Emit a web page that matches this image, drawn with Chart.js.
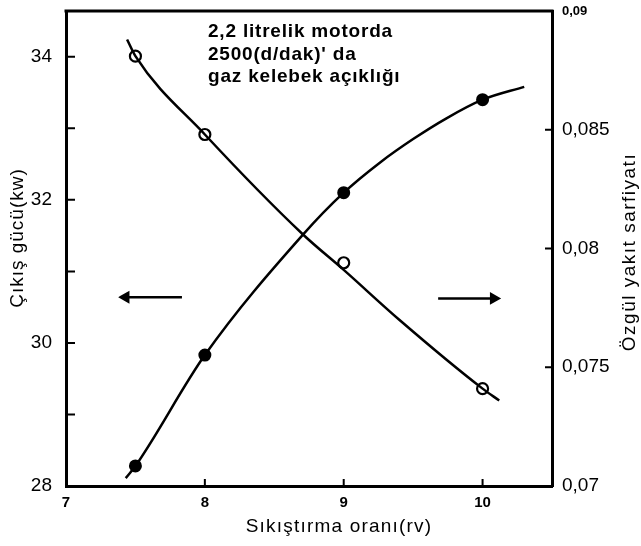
<!DOCTYPE html>
<html>
<head>
<meta charset="utf-8">
<script src="https://cdn.jsdelivr.net/npm/chart.js@4.4.0/dist/chart.umd.min.js"></script>
<style>
  html, body { margin: 0; padding: 0; background: #fff; }
  canvas { display: block; }
</style>
</head>
<body>
<canvas id="chart" width="641" height="546"></canvas>
<script>
// compression ratio (rv) of the measured points
const compressionRatios = [7.5, 8, 9, 10];
// output power, kW (left axis)
const powerKw = [28.28, 29.83, 32.10, 33.40];
// specific fuel consumption (right axis)
const fuelConsumption = [0.0881, 0.0848, 0.0794, 0.0741];

// the hand-drawn curves, read along their length
const powerCurveX = [7.43, 7.5, 8.0, 8.705, 9.0, 9.26, 9.5, 9.74, 10.0, 10.3];
const powerCurveY = [28.11, 28.28, 29.83, 31.51, 32.10, 32.52, 32.85, 33.14, 33.40, 33.58];
const fuelCurveX = [7.44, 7.5, 8.0, 8.705, 9.0, 9.4, 10.0, 10.12];
const fuelCurveY = [0.0888, 0.0881, 0.0848, 0.0806, 0.0791, 0.0770, 0.0741, 0.0736];

const leftTicks = [28, 29, 30, 31, 32, 33, 34];
const rightTicks = [0.07, 0.075, 0.08, 0.085, 0.09];
const xTicks = [7, 8, 9, 10];

// arrows pointing each curve to its axis
const powerArrowX = [7.835, 7.43];
const powerArrowY = 30.64;
const fuelArrowX = [9.68, 10.08];
const fuelArrowY = 0.0779;

const noteLines = ['2,2 litrelik motorda', "2500(d/dak)' da", 'gaz kelebek açıklığı'];

const FONT = "'Liberation Sans', Arial, sans-serif";
Chart.defaults.font.family = FONT;
Chart.defaults.color = '#000';

const pts = (xs, ys) => xs.map((x, i) => ({ x, y: Array.isArray(ys) ? ys[i] : ys }));

// keep the plot box where the original has it, whatever the labels need
const noOverflow = s => {
  s.paddingTop = 0; s.paddingBottom = 0; s.paddingLeft = 0; s.paddingRight = 0;
};

const frame = {
  id: 'frame',
  afterDraw(chart) {
    const { ctx, chartArea: a, scales } = chart;
    ctx.save();
    ctx.strokeStyle = '#000';
    ctx.lineWidth = 3;
    ctx.beginPath();
    ctx.moveTo(a.left - 1.5, a.top);
    ctx.lineTo(a.right + 1.5, a.top);
    ctx.stroke();

    // tick marks pointing into the plot
    ctx.lineWidth = 2;
    ctx.beginPath();
    leftTicks.slice(1).forEach(v => {
      const y = scales.yL.getPixelForValue(v);
      ctx.moveTo(a.left, y); ctx.lineTo(a.left + 9, y);
    });
    rightTicks.slice(1, 4).forEach(v => {
      const y = scales.yR.getPixelForValue(v);
      ctx.moveTo(a.right, y); ctx.lineTo(a.right - 7, y);
    });
    xTicks.slice(1).forEach(v => {
      const x = scales.x.getPixelForValue(v);
      ctx.moveTo(x, a.bottom); ctx.lineTo(x, a.bottom - 7);
    });
    ctx.stroke();

    ctx.fillStyle = '#000';
    ctx.textBaseline = 'middle';

    ctx.font = '19px ' + FONT;
    ctx.textAlign = 'center';
    ctx.letterSpacing = '1.2px';
    ctx.fillText('Sıkıştırma oranı(rv)', 339, 527);

    ctx.letterSpacing = '1px';
    ctx.save();
    ctx.translate(18, 238);
    ctx.rotate(-Math.PI / 2);
    ctx.fillText('Çıkış gücü(kw)', 0, 0);
    ctx.restore();

    ctx.letterSpacing = '1.5px';
    ctx.save();
    ctx.translate(630, 252);
    ctx.rotate(-Math.PI / 2);
    ctx.fillText('Özgül yakıt sarfiyatı', 0, 0);
    ctx.restore();

    ctx.font = 'bold 19px ' + FONT;
    ctx.textAlign = 'left';
    ctx.letterSpacing = '0.8px';
    noteLines.forEach((t, i) => ctx.fillText(t, 208, 32 + i * 22.5));
    ctx.restore();
  }
};

new Chart(document.getElementById('chart'), {
  type: 'scatter',
  data: {
    datasets: [
      {
        data: pts(powerCurveX, powerCurveY),
        yAxisID: 'yL', showLine: true, cubicInterpolationMode: 'monotone',
        borderColor: '#000', borderWidth: 2.5, pointRadius: 0
      },
      {
        data: pts(compressionRatios, powerKw),
        yAxisID: 'yL', pointStyle: 'circle', pointRadius: 5.5,
        borderColor: '#000', borderWidth: 2, backgroundColor: '#000'
      },
      {
        data: pts(fuelCurveX, fuelCurveY),
        yAxisID: 'yR', showLine: true, cubicInterpolationMode: 'monotone',
        borderColor: '#000', borderWidth: 2.5, pointRadius: 0
      },
      {
        data: pts(compressionRatios, fuelConsumption),
        yAxisID: 'yR', pointStyle: 'circle', pointRadius: 5.5,
        borderColor: '#000', borderWidth: 2.2, backgroundColor: '#fff'
      },
      {
        data: pts(powerArrowX, powerArrowY),
        yAxisID: 'yL', showLine: true, borderColor: '#000', borderWidth: 2.5,
        pointStyle: 'triangle', pointRadius: [0, 5], pointRotation: -90,
        backgroundColor: '#000'
      },
      {
        data: pts(fuelArrowX, fuelArrowY),
        yAxisID: 'yR', showLine: true, borderColor: '#000', borderWidth: 2.5,
        pointStyle: 'triangle', pointRadius: [0, 5], pointRotation: 90,
        backgroundColor: '#000'
      }
    ]
  },
  options: {
    responsive: false,
    animation: false,
    layout: { padding: { top: 11, left: 0, right: 0, bottom: 0 } },
    plugins: { legend: { display: false }, tooltip: { enabled: false } },
    scales: {
      x: {
        type: 'linear', min: 7, max: 10.5,
        afterBuildTicks: s => { s.ticks = xTicks.map(v => ({ value: v })); },
        afterFit: s => { s.height = 60; noOverflow(s); },
        grid: { display: false, drawTicks: false },
        border: { display: true, width: 3, color: '#000' },
        ticks: { autoSkip: false, maxRotation: 0, padding: 8, font: { size: 15, weight: 'bold' } }
      },
      yL: {
        position: 'left', min: 28, max: 34.64,
        afterBuildTicks: s => { s.ticks = leftTicks.map(v => ({ value: v })); },
        afterFit: s => { s.width = 66; noOverflow(s); },
        grid: { display: false, drawTicks: false },
        border: { display: true, width: 3, color: '#000' },
        ticks: {
          autoSkip: false, padding: 14, font: { size: 19 },
          callback: v => (v % 2 === 0 ? String(v) : '')
        }
      },
      yR: {
        position: 'right', min: 0.07, max: 0.09,
        afterBuildTicks: s => { s.ticks = rightTicks.map(v => ({ value: v })); },
        afterFit: s => { s.width = 89; noOverflow(s); },
        grid: { display: false, drawTicks: false },
        border: { display: true, width: 3, color: '#000' },
        ticks: {
          autoSkip: false, padding: 10,
          font: c => (c.tick && c.tick.value === 0.09 ? { size: 13, weight: 'bold' } : { size: 19 }),
          callback: v => (v === 0.09 ? '0,09' : String(v).replace('.', ','))
        }
      }
    }
  },
  plugins: [frame]
});
</script>
</body>
</html>
